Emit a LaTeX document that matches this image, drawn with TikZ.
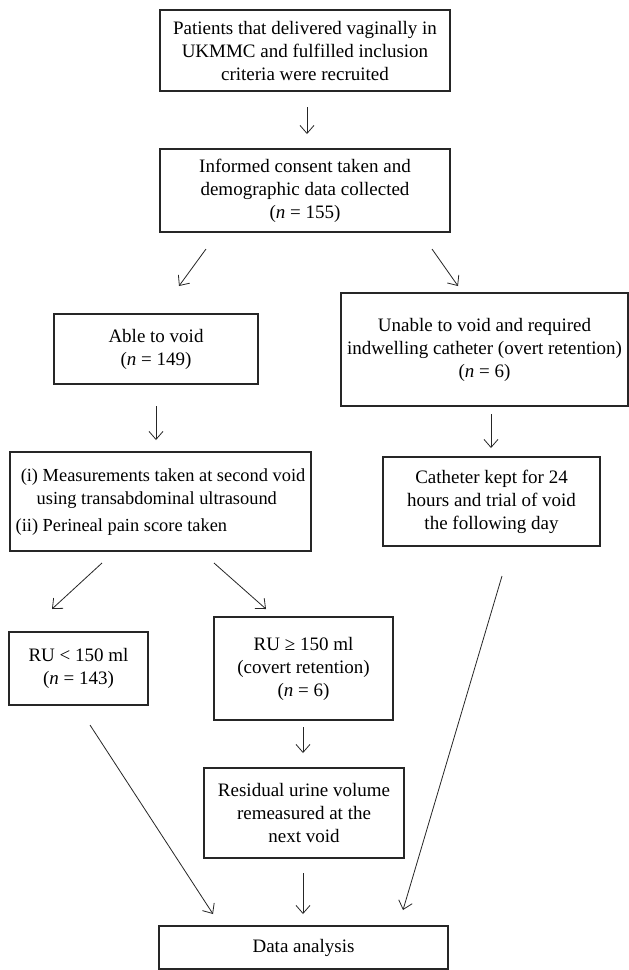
\documentclass[tikz,border=0pt]{standalone}
\usepackage{fontspec}
\setmainfont{Liberation Serif}
\usetikzlibrary{arrows.meta}
\begin{document}
\begin{tikzpicture}[x=1pt,y=-1pt,
  box/.style={draw=black!85,line width=1.1pt,inner sep=0pt,align=center,
    font=\fontsize{19}{23}\selectfont,fill=white},
  arr/.style={line width=0.8pt,draw=black!85,-{Straight Barb[length=8pt,width=14pt,line width=0.8pt]}}]
\useasboundingbox[fill=white] (0,0) rectangle (629,970);
% boxes
\node[box,minimum width=290pt,minimum height=81pt] (b1) at (305,50.5)
  {Patients that delivered vaginally in\\UKMMC and fulfilled inclusion\\criteria were recruited};
\node[box,minimum width=290pt,minimum height=83pt] (b2) at (305,190.5)
  {Informed consent taken and\\demographic data collected\\(\textit{n} = 155)};
\node[box,minimum width=204pt,minimum height=70pt] (able) at (156,349)
  {Able to void\\(\textit{n} = 149)};
\node[box,minimum width=287pt,minimum height=113pt] (unable) at (484.5,349.5)
  {Unable to void and required\\indwelling catheter (overt retention)\\(\textit{n} = 6)};
\node[box,minimum width=301pt,minimum height=99pt,align=left,
      font=\fontsize{18.4}{23}\selectfont] (list) at (160.5,501.5)
  {\begin{tabular}{@{}r@{\ }l@{}}(i)&Measurements taken at second void\\
   &\hspace{-6pt}using transabdominal ultrasound\\[4pt]
   (ii)&Perineal pain score taken\end{tabular}};
\node[box,minimum width=217pt,minimum height=89pt] (cath) at (491.5,501.5)
  {Catheter kept for 24\\hours and trial of void\\the following day};
\node[box,minimum width=139pt,minimum height=73pt] (ru1) at (78.5,668.5)
  {RU < 150 ml\\(\textit{n} = 143)};
\node[box,minimum width=179pt,minimum height=103pt] (ru2) at (303.5,668.5)
  {RU ≥ 150 ml\\(covert retention)\\(\textit{n} = 6)};
\node[box,minimum width=200pt,minimum height=90pt] (resid) at (304,813)
  {Residual urine volume\\remeasured at the\\next void};
\node[box,minimum width=289pt,minimum height=43pt] (data) at (303.5,947.5)
  {Data analysis};
% arrow end points
\coordinate (a1s) at (307,107);  \coordinate (a1e) at (307,134);
\coordinate (a2s) at (206,249);  \coordinate (a2e) at (179,286);
\coordinate (a3s) at (432,249);  \coordinate (a3e) at (458,286);
\coordinate (a4s) at (156,406);  \coordinate (a4e) at (156,440);
\coordinate (a5s) at (491,414);  \coordinate (a5e) at (491,448);
\coordinate (a6s) at (102,563);  \coordinate (a6e) at (52,609);
\coordinate (a7s) at (214,563);  \coordinate (a7e) at (266,609);
\coordinate (a8s) at (303,727);  \coordinate (a8e) at (303,753);
\coordinate (a9s) at (90,725);   \coordinate (a9e) at (213,914);
\coordinate (a10s) at (502,576); \coordinate (a10e) at (403,910);
\coordinate (a11s) at (303,873); \coordinate (a11e) at (303,914);
\foreach \i in {1,...,11} \draw[arr] (a\i s) -- (a\i e);
\end{tikzpicture}
\end{document}
